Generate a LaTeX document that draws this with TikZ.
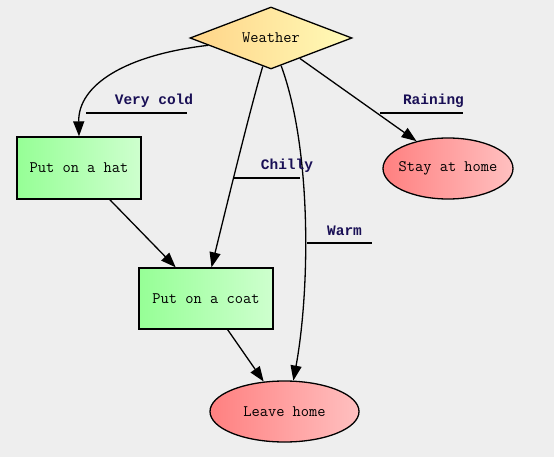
\documentclass[tikz,border=0pt]{standalone}
\usepackage{fontspec}
\newfontfamily\lblfont{Liberation Mono}
\usetikzlibrary{shapes.geometric,arrows.meta}

\definecolor{bgcol}{RGB}{238,238,238}
\definecolor{sunA}{RGB}{255,212,136}
\definecolor{sunB}{RGB}{255,251,184}
\definecolor{grnA}{RGB}{150,255,150}
\definecolor{grnB}{RGB}{206,255,206}
\definecolor{redA}{RGB}{255,128,128}
\definecolor{redB}{RGB}{255,192,192}
\definecolor{lblcol}{RGB}{25,15,85}

\tikzset{
  choice/.style={diamond,draw,line width=1.3pt,aspect=2.6,inner sep=0pt,
    minimum width=162pt,minimum height=62pt,left color=sunA,right color=sunB},
  action/.style={rectangle,draw,line width=1.3pt,inner sep=0pt,left color=grnA,right color=grnB},
  finish/.style={ellipse,draw,line width=1.3pt,inner xsep=-6pt,inner ysep=0pt,left color=redA,right color=redB},
  arr/.style={line width=1.3pt,-{Triangle[length=15pt,width=11pt]}},
  uline/.style={line width=1.3pt},
  lbl/.style={text=lblcol,font=\lblfont\bfseries\fontsize{14.5}{16}\selectfont,inner sep=0pt}
}

\begin{document}
\begin{tikzpicture}[x=1pt,y=-1pt,font=\ttfamily\fontsize{16}{18}\selectfont]
      \fill[bgcol] (0,0) rectangle (554,457);
      \useasboundingbox (0,0) rectangle (554,457);
      % nodes
      \node (weather) at (271,38) [choice] {Weather};
      \node (hat) at (79,168) [action,minimum width=124pt,minimum height=62pt] {Put on a hat};
      \node (coat) at (206,298.5) [action,minimum width=134pt,minimum height=61pt] {Put on a coat};
      \node (stay) at (448,168.5) [finish,minimum width=130pt,minimum height=61pt] {Stay at home};
      \node (leave) at (284.5,411.5) [finish,minimum width=149pt,minimum height=61pt] {Leave home};
      % edges
      \draw[arr] (weather) .. controls (125,55) and (78,85) .. (hat.north);
      \draw[arr] (weather) .. controls (250,110) and (228,200) .. (coat.80);
      \draw[arr] (weather) .. controls (312,150) and (310,290) .. (leave.74);
      \draw[arr] (weather) -- (stay.139);
      \draw[arr] (hat) -- (coat);
      \draw[arr] (coat) -- (leave);
      % labels
      \node (cold) at (154,101) [lbl] {Very cold};
      \node (chilly) at (287,166) [lbl] {Chilly};
      \node (warm) at (344.5,231) [lbl] {Warm};
      \node (rain) at (433.5,101) [lbl] {Raining};
      \coordinate (coldA) at (86,113);   \coordinate (coldB) at (187,113);
      \coordinate (chillyA) at (233,178); \coordinate (chillyB) at (300,178);
      \coordinate (warmA) at (307,243);  \coordinate (warmB) at (372,243);
      \coordinate (rainA) at (380,113);  \coordinate (rainB) at (463,113);
      \draw[uline] (coldA) -- (coldB);
      \draw[uline] (chillyA) -- (chillyB);
      \draw[uline] (warmA) -- (warmB);
      \draw[uline] (rainA) -- (rainB);
    \end{tikzpicture}
\end{document}
